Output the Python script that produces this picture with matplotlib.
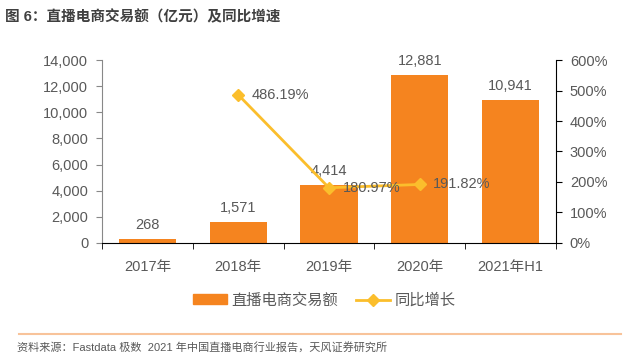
import matplotlib.pyplot as plt
from matplotlib.lines import Line2D
from matplotlib.patches import Patch

plt.rcParams['font.family'] = ['Liberation Sans', 'Noto Sans CJK SC', 'DejaVu Sans']

years = ['2017年', '2018年', '2019年', '2020年', '2021年H1']
gmv = [268, 1571, 4414, 12881, 10941]
gmv_labels = ['268', '1,571', '4,414', '12,881', '10,941']
growth_idx = [1, 2, 3]
growth = [486.19, 180.97, 191.82]

BAR_COLOR = '#F5841F'
LINE_COLOR = '#FBBE2C'
GRAY = '#595959'

fig = plt.figure(figsize=(6.26, 3.62), dpi=100)
ax = fig.add_axes([0.163, 0.329, 0.725, 0.505])
x = list(range(len(years)))
ax.bar(x, gmv, width=0.63, color=BAR_COLOR, zorder=2)
for xi, v, lab in zip(x, gmv, gmv_labels):
    ax.text(xi, v + 550, lab, ha='center', va='bottom', fontsize=10.5, color=GRAY)

ax.set_xlim(-0.5, len(years) - 0.5)
ax.set_ylim(0, 14000)
ax.set_yticks(range(0, 14001, 2000))
ax.set_yticklabels([f'{v:,}' for v in range(0, 14001, 2000)], fontsize=10.5, color=GRAY)
ax.set_xticks(x)
ax.set_xticklabels(years, fontsize=10.5, color=GRAY)
ax.set_xticks([i - 0.5 for i in range(len(years) + 1)], minor=True)
ax.tick_params(axis='x', which='major', length=0, pad=12)
ax.tick_params(axis='x', which='minor', length=4, direction='out', color='black')
ax.tick_params(axis='y', length=4, color='#888888', pad=6)
for s in ['top', 'right']:
    ax.spines[s].set_visible(False)
ax.spines['left'].set_color('#888888')
ax.spines['bottom'].set_color('black')

ax2 = ax.twinx()
ax2.plot(growth_idx, growth, color=LINE_COLOR, lw=2, marker='D', ms=6, zorder=3)
for xi, v in zip(growth_idx, growth):
    ax2.text(xi + 0.15, v, f'{v:.2f}%', ha='left', va='center', fontsize=10.5, color=GRAY)
ax2.set_ylim(0, 600)
ax2.set_yticks(range(0, 601, 100))
ax2.set_yticklabels([f'{v}%' for v in range(0, 601, 100)], fontsize=10.5, color=GRAY)
ax2.tick_params(axis='y', length=4, color='black', pad=6)
for s in ['top', 'left', 'bottom']:
    ax2.spines[s].set_visible(False)
ax2.spines['right'].set_color('black')

handles = [Patch(color=BAR_COLOR),
           Line2D([], [], color=LINE_COLOR, lw=2, marker='D', ms=6)]
fig.legend(handles, ['直播电商交易额', '同比增长'], loc='center', bbox_to_anchor=(0.518, 0.17),
           ncol=2, frameon=False, fontsize=11, labelcolor=GRAY, handlelength=2.2, columnspacing=1.2,
           handleheight=0.6, handletextpad=0.3)

fig.text(0.008, 0.953, '图 6：直播电商交易额（亿元）及同比增速', fontsize=10.5, fontweight='bold',
         color='#404040', va='center')
fig.add_artist(Line2D([0.03, 0.992], [0.077, 0.077], color='#F8C39A', lw=1.5))
fig.text(0.027, 0.04, '资料来源：Fastdata 极数  2021 年中国直播电商行业报告，天风证券研究所', fontsize=8,
         color=GRAY, va='center')

fig.savefig('out.png', dpi=100)
